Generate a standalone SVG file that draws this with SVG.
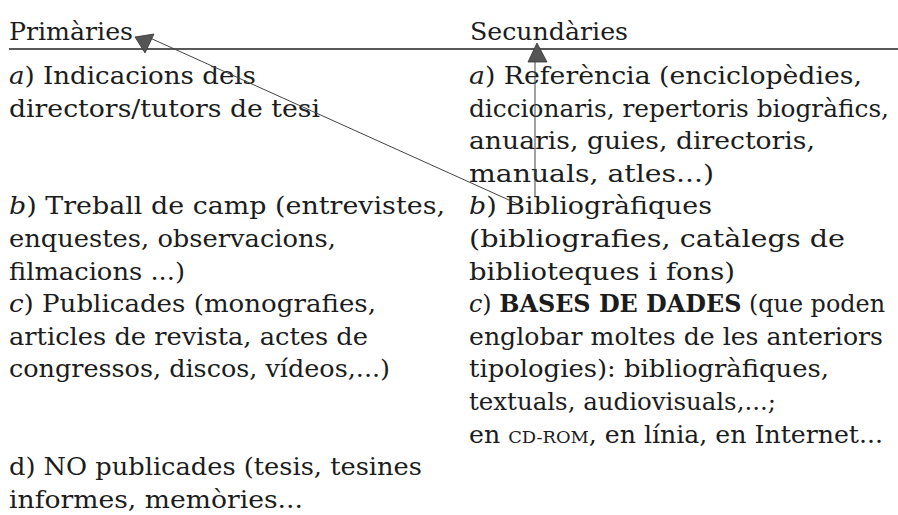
<svg xmlns="http://www.w3.org/2000/svg" width="898" height="515" viewBox="0 0 898 515">
<style>
text{font-family:"DejaVu Serif","Liberation Serif",serif;font-size:24px;fill:#1c1c1c}
.i{font-style:italic}
.b{font-weight:bold}
.sc{font-size:17px}
.rule{stroke:#222;stroke-width:1.4}
.conn{stroke:#444;stroke-width:1;fill:none}
.head{fill:#555;stroke:#333;stroke-width:0.8}
</style>
<rect width="898" height="515" fill="#ffffff"/>
<g id="header">
<text x="9" y="40" textLength="124" lengthAdjust="spacingAndGlyphs">Primàries</text>
<text x="470" y="40" textLength="158" lengthAdjust="spacingAndGlyphs">Secundàries</text>
<line class="rule" x1="9" y1="49" x2="898" y2="49"/>
</g>
<g id="primaries">
<g id="p-a">
<text x="9" y="84" textLength="247" lengthAdjust="spacingAndGlyphs"><tspan class="i">a</tspan>) Indicacions dels</text>
<text x="9" y="116.6" textLength="311" lengthAdjust="spacingAndGlyphs">directors/tutors de tesi</text>
</g>
<g id="p-b">
<text x="9" y="214.4" textLength="436" lengthAdjust="spacingAndGlyphs"><tspan class="i">b</tspan>) Treball de camp (entrevistes,</text>
<text x="9" y="247" textLength="327" lengthAdjust="spacingAndGlyphs">enquestes, observacions,</text>
<text x="9" y="279.6" textLength="176" lengthAdjust="spacingAndGlyphs">filmacions ...)</text>
</g>
<g id="p-c">
<text x="9" y="312.2" textLength="367" lengthAdjust="spacingAndGlyphs"><tspan class="i">c</tspan>) Publicades (monografies,</text>
<text x="9" y="344.8" textLength="359" lengthAdjust="spacingAndGlyphs">articles de revista, actes de</text>
<text x="9" y="377.4" textLength="381" lengthAdjust="spacingAndGlyphs">congressos, discos, vídeos,...)</text>
</g>
<g id="p-d">
<text x="9" y="475.2" textLength="413" lengthAdjust="spacingAndGlyphs">d) NO publicades (tesis, tesines</text>
<text x="9" y="507.8" textLength="294" lengthAdjust="spacingAndGlyphs">informes, memòries...</text>
</g>
</g>
<g id="secundaries">
<g id="s-a">
<text x="469" y="84" textLength="393" lengthAdjust="spacingAndGlyphs"><tspan class="i">a</tspan>) Referència (enciclopèdies,</text>
<text x="469" y="116.6" textLength="420" lengthAdjust="spacingAndGlyphs">diccionaris, repertoris biogràfics,</text>
<text x="469" y="149.2" textLength="346" lengthAdjust="spacingAndGlyphs">anuaris, guies, directoris,</text>
<text x="469" y="181.8" textLength="245" lengthAdjust="spacingAndGlyphs">manuals, atles...)</text>
</g>
<g id="s-b">
<text x="469" y="214.4" textLength="243" lengthAdjust="spacingAndGlyphs"><tspan class="i">b</tspan>) Bibliogràfiques</text>
<text x="469" y="247" textLength="376" lengthAdjust="spacingAndGlyphs">(bibliografies, catàlegs de</text>
<text x="469" y="279.6" textLength="266" lengthAdjust="spacingAndGlyphs">biblioteques i fons)</text>
</g>
<g id="s-c">
<text x="469" y="312.2" textLength="416" lengthAdjust="spacingAndGlyphs"><tspan class="i">c</tspan>) <tspan class="b">BASES DE DADES</tspan> (que poden</text>
<text x="469" y="344.8" textLength="414" lengthAdjust="spacingAndGlyphs">englobar moltes de les anteriors</text>
<text x="469" y="377.4" textLength="360" lengthAdjust="spacingAndGlyphs">tipologies): bibliogràfiques,</text>
<text x="469" y="410" textLength="307" lengthAdjust="spacingAndGlyphs">textuals, audiovisuals,...;</text>
<text x="469" y="442.6" textLength="414" lengthAdjust="spacingAndGlyphs">en <tspan class="sc">CD-ROM</tspan>, en línia, en Internet...</text>
</g>
</g>
<g id="connectors">
<line class="conn" x1="150" y1="38" x2="520" y2="205"/>
<polygon class="head" points="135,37 154,34 145,53"/>
<line class="conn" x1="535" y1="62" x2="535" y2="197"/>
<polygon class="head" points="537,43 547,62 528,62"/>
</g>
</svg>
